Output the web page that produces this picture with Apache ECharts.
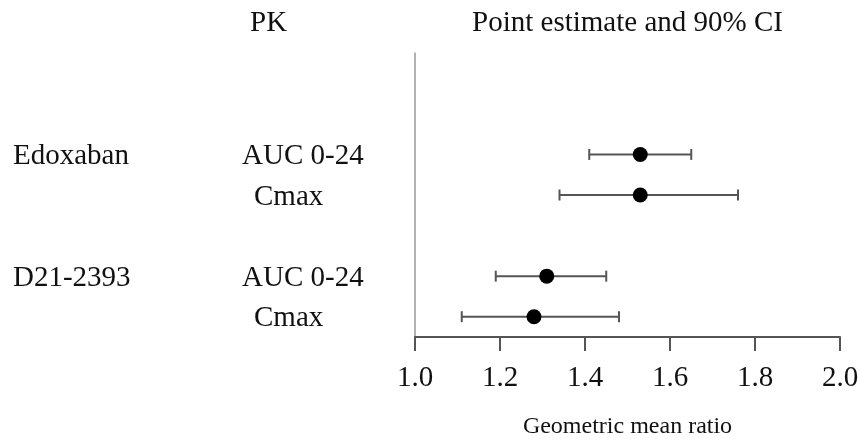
<!DOCTYPE html>
<html>
<head>
<meta charset="utf-8">
<script src="https://cdn.jsdelivr.net/npm/echarts@6/dist/echarts.min.js"></script>
<style>
html,body{margin:0;padding:0;background:#fff;}
#chart{width:861px;height:439px;}
</style>
</head>
<body>
<div id="chart"></div>
<script>
// ---- data ----
const drugLabels = ['Edoxaban', '', 'D21-2393', ''];
const pkLabels = ['AUC 0-24', 'Cmax', 'AUC 0-24', 'Cmax'];
const rowPos = [2.5, 3.5, 5.5, 6.5];
const pointEst = [1.53, 1.53, 1.31, 1.28];
const ciLow = [1.41, 1.34, 1.19, 1.11];
const ciHigh = [1.65, 1.76, 1.45, 1.48];
const xMin = 1.0, xMax = 2.0, xStep = 0.2;
const headerPK = 'PK';
const headerCI = 'Point estimate and 90% CI';
const xAxisName = 'Geometric mean ratio';

// ---- layout ----
const FONT = '"Liberation Serif", "Times New Roman", serif';
const pkX = { 'AUC 0-24': 242, 'Cmax': 254 };
const drugX = 13;

const chart = echarts.init(document.getElementById('chart'));

const ciData = rowPos.map((y, i) => [ciLow[i], ciHigh[i], y]);
const ptData = rowPos.map((y, i) => [pointEst[i], y]);

chart.setOption({
  animation: false,
  backgroundColor: '#fff',
  grid: { left: 415, right: 21, top: 53, bottom: 102, containLabel: false, outerBoundsMode: 'none' },
  xAxis: {
    type: 'value', min: xMin, max: xMax, interval: xStep, position: 'bottom',
    name: xAxisName, nameLocation: 'middle', nameGap: 78,
    nameTextStyle: { fontFamily: FONT, fontSize: 24, color: '#111' },
    axisLine: { show: true, onZero: false, lineStyle: { color: '#555', width: 2 } },
    axisTick: { show: true, length: 14, lineStyle: { color: '#555', width: 2 } },
    axisLabel: { margin: 27, fontFamily: FONT, fontSize: 29, color: '#111',
      formatter: v => v.toFixed(1) },
    splitLine: { show: false }
  },
  yAxis: {
    type: 'value', min: 0, max: 7, inverse: true,
    axisLine: { show: true, onZero: false, lineStyle: { color: '#999', width: 1.5 } },
    axisTick: { show: false }, axisLabel: { show: false }, splitLine: { show: false }
  },
  series: [
    {
      type: 'custom',
      data: ciData,
      renderItem: function (params, api) {
        const lo = api.coord([api.value(0), api.value(2)]);
        const hi = api.coord([api.value(1), api.value(2)]);
        const cap = 5.5;
        const style = { stroke: '#555', lineWidth: 2 };
        return {
          type: 'group',
          children: [
            { type: 'line', shape: { x1: lo[0], y1: lo[1], x2: hi[0], y2: hi[1] }, style },
            { type: 'line', shape: { x1: lo[0], y1: lo[1] - cap, x2: lo[0], y2: lo[1] + cap }, style },
            { type: 'line', shape: { x1: hi[0], y1: hi[1] - cap, x2: hi[0], y2: hi[1] + cap }, style }
          ]
        };
      },
      z: 2
    },
    {
      type: 'scatter',
      data: ptData,
      symbol: 'circle', symbolSize: 15,
      itemStyle: { color: '#000', opacity: 1 },
      z: 3
    }
  ]
});

// text labels aligned to rows via the y scale
const graphics = [];
const textStyle = (t, x, y, align) => ({
  type: 'text', x: x, y: y,
  style: { text: t, fontFamily: FONT, fontSize: 29, fill: '#111', align: align || 'left', verticalAlign: 'middle' }
});
rowPos.forEach((p, i) => {
  const y = chart.convertToPixel({ gridIndex: 0 }, [xMin, p])[1] + 2;
  if (drugLabels[i]) graphics.push(textStyle(drugLabels[i], drugX, y));
  graphics.push(textStyle(pkLabels[i], pkX[pkLabels[i]], y));
});
const xc = (chart.convertToPixel({ gridIndex: 0 }, [xMin, 0])[0] + chart.convertToPixel({ gridIndex: 0 }, [xMax, 0])[0]) / 2;
graphics.push(textStyle(headerPK, 250, 23));
graphics.push(textStyle(headerCI, xc, 23, 'center'));
chart.setOption({ graphic: graphics });
</script>
</body>
</html>
